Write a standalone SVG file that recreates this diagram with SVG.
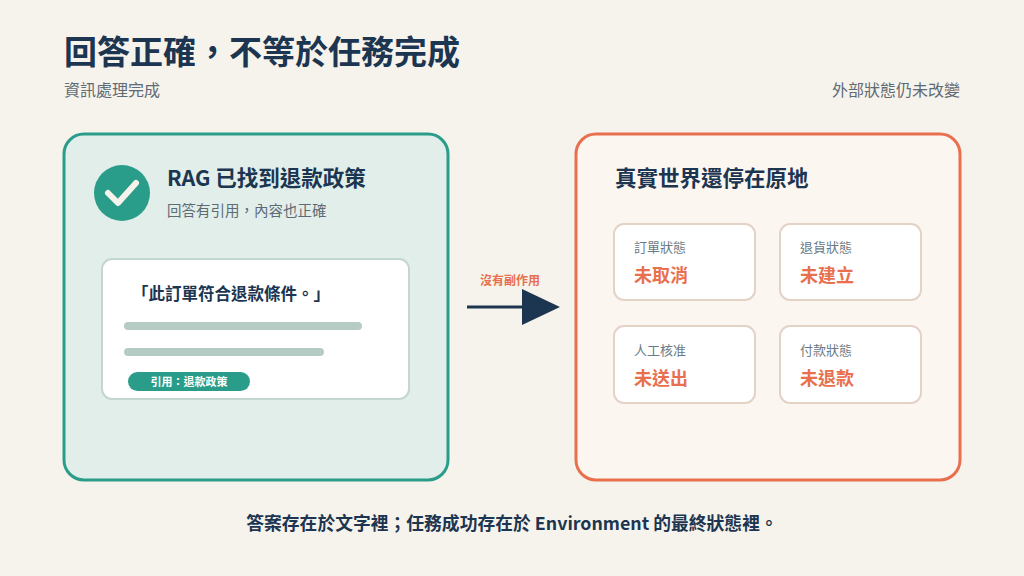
<svg xmlns="http://www.w3.org/2000/svg" width="1024" height="576" viewBox="0 0 1024 576">
<style>
text{font-family:"Noto Sans CJK TC","Noto Sans",sans-serif}
.st{fill:#fff;stroke:#e3d3c6;stroke-width:2}
.lb{font-size:13px;fill:#6b7a85}
.vl{font-size:18px;font-weight:700;fill:#e8704f}
</style>
<rect width="1024" height="576" fill="#f6f3ec"/>
<text x="64" y="64" font-size="33" font-weight="700" fill="#1c3550">回答正確，不等於任務完成</text>
<text x="64" y="96" font-size="16" fill="#5e6b75">資訊處理完成</text>
<text x="960" y="96" font-size="16" fill="#5e6b75" text-anchor="end">外部狀態仍未改變</text>
<g id="left">
<rect x="64" y="134" width="384" height="346" rx="20" fill="#e1eee9" stroke="#2a9d8a" stroke-width="3"/>
<circle cx="122" cy="193" r="28" fill="#2a9d8a"/>
<path d="M108 193 L118 203 L136 183" fill="none" stroke="#f6f3ec" stroke-width="6" stroke-linecap="round" stroke-linejoin="round"/>
<text x="167" y="186" font-size="21.5" font-weight="700" fill="#1c3550">RAG 已找到退款政策</text>
<text x="167" y="216" font-size="14.5" fill="#5e6b75">回答有引用，內容也正確</text>
<rect x="102" y="259" width="307" height="140" rx="10" fill="#fff" stroke="#c3d7cf" stroke-width="2"/>
<text x="132" y="300" font-size="16.5" font-weight="700" fill="#1c3550">「此訂單符合退款條件。」</text>
<rect x="124" y="322" width="238" height="8" rx="4" fill="#b5cbc3"/>
<rect x="124" y="348" width="200" height="8" rx="4" fill="#b5cbc3"/>
<rect x="128" y="372" width="122" height="19" rx="9.5" fill="#2a9d8a"/>
<text x="189" y="386" font-size="11" font-weight="700" fill="#fff" text-anchor="middle">引用：退款政策</text>
</g>
<g id="connectors">
<text x="510" y="285" font-size="12" font-weight="700" fill="#e8704f" text-anchor="middle">沒有副作用</text>
<line x1="467" y1="307" x2="525" y2="307" stroke="#1c3550" stroke-width="3"/>
<polygon points="522,289 560,307 522,325" fill="#1c3550"/>
</g>
<g id="right">
<rect x="576" y="134" width="384" height="346" rx="20" fill="#fcf6f1" stroke="#e8704f" stroke-width="3"/>
<text x="615" y="186" font-size="21.5" font-weight="700" fill="#1c3550">真實世界還停在原地</text>
</g>
<g id="s1"><rect class="st" x="614" y="224" width="141" height="76" rx="10"/><text class="lb" x="634" y="252">訂單狀態</text><text class="vl" x="634" y="282">未取消</text></g>
<g id="s2"><rect class="st" x="780" y="224" width="141" height="76" rx="10"/><text class="lb" x="800" y="252">退貨狀態</text><text class="vl" x="800" y="282">未建立</text></g>
<g id="s3"><rect class="st" x="614" y="326" width="141" height="77" rx="10"/><text class="lb" x="634" y="355">人工核准</text><text class="vl" x="634" y="385">未送出</text></g>
<g id="s4"><rect class="st" x="780" y="326" width="141" height="77" rx="10"/><text class="lb" x="800" y="355">付款狀態</text><text class="vl" x="800" y="385">未退款</text></g>
<text x="512" y="530" font-size="17.8" font-weight="700" fill="#1c3550" text-anchor="middle">答案存在於文字裡；任務成功存在於 Environment 的最終狀態裡。</text>
</svg>
